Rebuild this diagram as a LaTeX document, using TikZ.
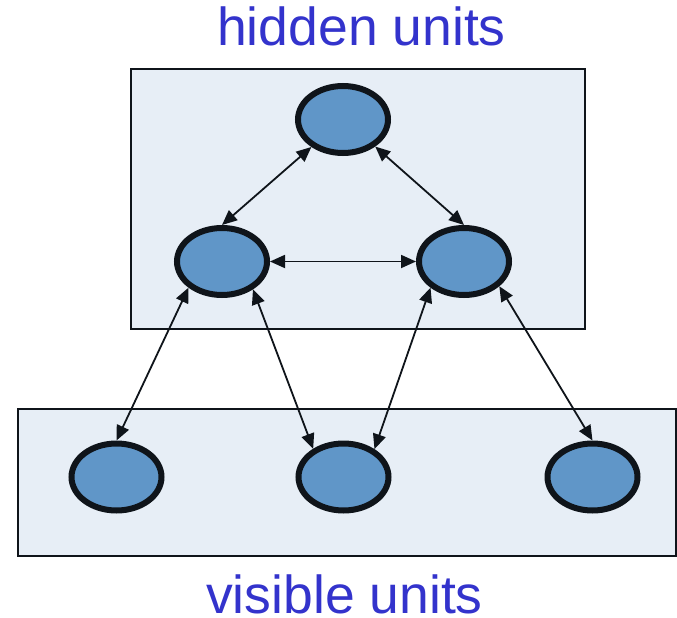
\documentclass[tikz,border=0pt]{standalone}
\usepackage{fontspec}
\setmainfont{Liberation Sans}
\usetikzlibrary{shapes.geometric,arrows.meta}
\definecolor{panelfill}{HTML}{E7EEF6}
\definecolor{unitfill}{HTML}{6096C8}
\definecolor{unitline}{HTML}{0F141A}
\definecolor{labelblue}{HTML}{3333CC}
\tikzset{
  panel/.style={draw=unitline, line width=1.8pt, fill=panelfill},
  unit/.style={ellipse, draw=unitline, line width=6pt, fill=unitfill,
               minimum width=90pt, minimum height=67pt, inner sep=0pt},
  link/.style={draw=unitline, line width=1.8pt,
               {Triangle[length=15pt,width=13pt]}-{Triangle[length=15pt,width=13pt]}},
  caption/.style={font=\fontsize{53.5}{60}\selectfont, text=labelblue,
                  anchor=base, inner sep=0pt, text depth=0pt}
}
\begin{document}
\begin{tikzpicture}[x=1pt,y=-1pt]
  \useasboundingbox (0,0) rectangle (677,618);
  % layer panels
  \draw[panel] (131,69) rectangle (585,329);
  \draw[panel] (18,409) rectangle (676,556);
  % captions
  \node[caption] (hcap) at (361.5,46) {hidden units};
  \node[caption] (vcap) at (344.5,613) {visible units};
  % hidden units
  \node[unit] (t) at (343,119.5) {};
  \node[unit] (l) at (222,261.5) {};
  \node[unit] (r) at (464,261.5) {};
  % visible units
  \node[unit] (v1) at (116.5,477) {};
  \node[unit] (v2) at (343.5,477) {};
  \node[unit] (v3) at (592.5,477) {};
  % connections
  \draw[link] (t.221) -- (l.north);
  \draw[link] (t.320) -- (r.north);
  \draw[link] (l.east) -- (r.west);
  \draw[link] (l.218) -- (v1.north);
  \draw[link] (l.318) -- (v2.137);
  \draw[link] (r.218) -- (v2.42);
  \draw[link] (r.325) -- (v3.north);
\end{tikzpicture}
\end{document}
